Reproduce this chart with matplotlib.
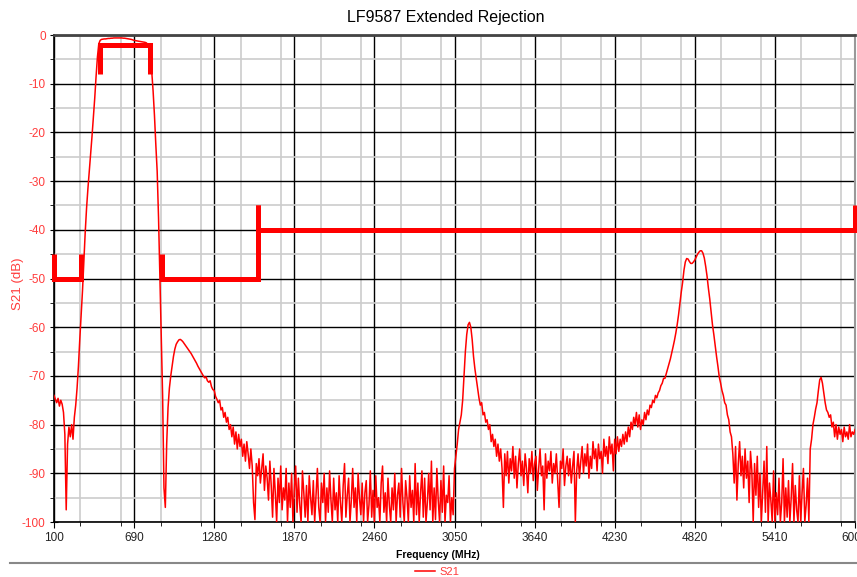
import numpy as np
import matplotlib
matplotlib.use('Agg')
import matplotlib.pyplot as plt
from matplotlib.lines import Line2D
from matplotlib.ticker import MultipleLocator

# sweep 100..6000 MHz, 10 MHz step; S21 in dB (one row = 100 MHz)
freq = np.arange(100, 6001, 10)
s21 = [
    -74.0, -74.8, -75.5, -74.6, -76.2, -75.0, -75.8, -77.5, -82.0, -97.5,   # 100
    -84.0, -80.5, -82.5, -80.0, -83.0, -78.5, -76.0, -72.5, -68.0, -62.5,   # 200
    -57.5, -52.5, -46.5, -40.5, -35.5, -31.5, -28.0, -24.5, -20.8, -17.0,   # 300
    -13.0, -8.5, -4.5, -1.8, -1.1, -0.9, -0.85, -0.8, -0.8, -0.75,          # 400
    -0.7, -0.7, -0.65, -0.65, -0.6, -0.6, -0.6, -0.6, -0.6, -0.6,           # 500
    -0.6, -0.65, -0.65, -0.7, -0.75, -0.8, -0.85, -0.9, -1.0, -1.1,         # 600
    -1.15, -1.2, -1.25, -1.3, -1.35, -1.4, -1.45, -1.5, -1.6, -1.9,         # 700
    -2.5, -4.5, -7.5, -11.5, -16.5, -22.5, -28.0, -37.5, -50.0, -63.0,      # 800
    -74.0, -93.0, -97.0, -84.0, -76.5, -72.5, -70.0, -68.0, -66.0, -64.5,   # 900
    -63.5, -63.0, -62.6, -62.5, -62.7, -63.0, -63.4, -63.8, -64.2, -64.6,   # 1000
    -65.0, -65.4, -65.9, -66.4, -66.9, -67.4, -68.0, -68.5, -69.0, -69.5,   # 1100
    -70.0, -70.4, -70.2, -71.0, -71.3, -71.0, -72.2, -72.8, -73.0, -74.2,   # 1200
    -74.8, -75.5, -75.0, -77.0, -76.5, -78.5, -77.5, -79.5, -78.5, -81.0,   # 1300
    -80.0, -82.5, -80.5, -84.0, -81.5, -85.0, -82.0, -84.5, -83.0, -86.5,   # 1400
    -84.0, -87.5, -83.5, -86.0, -89.0, -85.0, -88.5, -96.0, -99.5, -88.0,   # 1500
    -90.5, -87.0, -92.0, -89.0, -86.0, -93.5, -88.5, -91.0, -95.5, -87.5,   # 1600
    -92.5, -99.0, -89.0, -94.0, -100, -91.0, -96.0, -88.5, -97.5, -93.0,    # 1700
    -95.5, -89.0, -100, -92.0, -97.0, -90.0, -100, -93.5, -88.5, -98.0,     # 1800
    -91.0, -96.5, -100, -89.5, -94.0, -99.0, -92.5, -100, -90.5, -95.0,     # 1900
    -98.5, -91.5, -100, -94.5, -89.0, -97.0, -100, -92.0, -96.0, -90.0,     # 2000
    -100, -93.0, -98.0, -89.5, -95.5, -100, -91.0, -97.5, -94.0, -100,      # 2100
    -90.5, -96.0, -100, -92.5, -88.0, -99.0, -94.5, -91.0, -100, -95.5,     # 2200
    -89.0, -97.0, -93.0, -100, -90.0, -95.0, -98.5, -92.0, -100, -94.0,     # 2300
    -91.5, -100, -96.5, -89.5, -99.0, -93.5, -100, -90.5, -97.0, -95.0,     # 2400
    -100, -92.0, -88.5, -98.0, -94.0, -100, -91.0, -96.5, -100, -93.0,      # 2500
    -97.5, -90.0, -100, -94.5, -92.0, -99.0, -89.0, -96.0, -100, -91.5,     # 2600
    -95.0, -100, -90.5, -97.0, -93.5, -100, -88.0, -98.5, -92.0, -100,      # 2700
    -94.0, -89.5, -99.0, -91.0, -100, -96.0, -90.0, -97.5, -87.5, -100,     # 2800
    -93.0, -99.5, -89.0, -95.5, -100, -91.5, -98.0, -88.5, -100, -94.5,     # 2900
    -96.0, -90.5, -100, -95.0, -98.5, -89.0, -86.5, -84.0, -81.0, -79.5,    # 3000
    -78.0, -75.0, -70.0, -65.0, -61.5, -59.5, -59.0, -60.0, -62.5, -66.0,   # 3100
    -68.5, -70.5, -72.5, -74.5, -76.0, -75.5, -78.0, -77.5, -79.5, -79.0,   # 3200
    -81.0, -80.0, -83.5, -82.0, -84.5, -83.0, -86.5, -84.0, -87.5, -85.0,   # 3300
    -89.0, -97.0, -86.0, -90.5, -85.5, -92.0, -87.0, -89.5, -84.5, -91.0,   # 3400
    -86.5, -93.0, -88.0, -85.0, -90.5, -87.5, -92.5, -86.0, -89.0, -94.0,   # 3500
    -87.0, -90.0, -85.5, -91.5, -88.0, -86.5, -93.5, -89.0, -85.0, -90.5,   # 3600
    -88.5, -97.5, -86.0, -91.0, -87.5, -89.5, -85.5, -92.0, -88.0, -90.0,   # 3700
    -86.0, -91.5, -97.0, -87.5, -89.0, -85.0, -92.5, -88.5, -86.5, -90.5,   # 3800
    -87.0, -92.0, -88.5, -85.5, -100, -89.5, -86.0, -91.0, -87.5, -84.5,    # 3900
    -90.0, -86.0, -88.5, -84.0, -91.0, -86.5, -89.0, -83.5, -87.0, -85.0,   # 4000
    -89.5, -84.0, -87.0, -85.5, -90.0, -83.0, -86.5, -84.5, -88.0, -82.5,   # 4100
    -86.0, -84.0, -89.5, -83.0, -86.0, -82.5, -85.5, -83.0, -84.5, -82.0,   # 4200
    -84.0, -81.5, -83.5, -80.5, -82.5, -79.5, -81.0, -78.5, -80.0, -77.5,   # 4300
    -80.5, -78.0, -81.0, -79.0, -80.0, -77.5, -79.0, -77.0, -78.0, -76.0,   # 4400
    -76.5, -75.0, -75.5, -74.0, -74.5, -73.5, -73.0, -72.0, -71.5, -70.5,   # 4500
    -70.5, -69.5, -68.5, -67.5, -66.5, -65.3, -64.0, -62.7, -61.2, -59.5,   # 4600
    -57.5, -55.2, -52.8, -50.8, -48.3, -46.6, -45.9, -46.0, -46.5, -46.9,   # 4700
    -46.9, -46.6, -46.2, -45.6, -45.0, -44.6, -44.3, -44.3, -44.8, -45.8,   # 4800
    -47.5, -49.5, -52.0, -54.2, -56.8, -59.5, -61.5, -63.8, -66.0, -68.0,   # 4900
    -70.2, -71.5, -73.0, -74.0, -75.5, -76.0, -78.0, -79.0, -81.5, -82.5,   # 5000
    -86.0, -92.0, -84.5, -95.5, -88.0, -83.5, -90.5, -86.5, -93.0, -85.0,   # 5100
    -91.0, -87.5, -96.0, -85.5, -89.5, -100, -88.0, -94.5, -86.5, -97.0,    # 5200
    -90.0, -100, -93.5, -87.5, -98.0, -84.5, -100, -92.0, -95.5, -100,      # 5300
    -89.5, -100, -94.0, -98.5, -91.0, -100, -96.0, -87.0, -100, -93.0,      # 5400
    -99.0, -91.5, -100, -95.0, -88.0, -100, -92.5, -97.5, -100, -90.5,      # 5500
    -100, -94.0, -89.0, -100, -96.5, -91.0, -100, -85.0, -83.0, -80.0,      # 5600
    -78.5, -76.8, -75.5, -73.0, -70.8, -70.3, -71.5, -73.5, -75.5, -77.0,   # 5700
    -77.5, -78.5, -78.0, -80.5, -79.5, -82.5, -80.0, -83.0, -80.5, -82.0,   # 5800
    -81.0, -83.5, -80.5, -82.5, -81.5, -83.0, -80.0, -82.5, -81.5, -82.0,   # 5900
    -81.0,
]

# spec mask segments
mask_pass_f = [440, 440, 810, 810]
mask_pass_db = [-8, -2, -2, -8]
mask_low_f = [100, 100, 300, 300]
mask_low_db = [-45, -50, -50, -45]
mask_mid_f = [895, 895, 1600, 1600]
mask_mid_db = [-45, -50, -50, -35]
mask_high_f = [1600, 1600, 6000, 6000]
mask_high_db = [-35, -40, -40, -35]

xticks = np.arange(100, 6001, 590)
yticks = np.arange(-100, 1, 10)

narrow = ['Liberation Sans Narrow', 'Liberation Sans', 'DejaVu Sans']
plt.rcParams['font.family'] = ['Liberation Sans', 'DejaVu Sans']
plt.rcParams['axes.unicode_minus'] = False

fig = plt.figure(figsize=(8.57, 5.77), dpi=100)
ax = fig.add_axes([0.063, 0.0953, 0.9347, 0.844])

ax.plot(freq, s21, color='#ff0000', lw=1.1, label='S21', zorder=3)
for f, d in [(mask_pass_f, mask_pass_db), (mask_low_f, mask_low_db),
             (mask_mid_f, mask_mid_db), (mask_high_f, mask_high_db)]:
    ax.plot(f, d, color='#ff0000', lw=3.6, solid_joinstyle='miter',
            solid_capstyle='butt', zorder=4, clip_on=False)

ax.set_xlim(100, 6000)
ax.set_ylim(-100, 0)
ax.set_xticks(xticks)
ax.set_yticks(yticks)
ax.xaxis.set_minor_locator(MultipleLocator(295))
ax.yaxis.set_minor_locator(MultipleLocator(5))
ax.grid(which='major', color='black', lw=1.0, zorder=1)
ax.grid(which='minor', color='#cccccc', lw=1.2, zorder=0)
ax.set_axisbelow(True)

ax.tick_params(axis='x', which='major', direction='out', length=4,
               labelsize=8.5, labelcolor='#222222', pad=3)
ax.tick_params(axis='y', which='major', direction='inout', length=6,
               labelsize=8.5, labelcolor='#ff3b3b', pad=3)
ax.tick_params(which='minor', direction='out', length=3)

for s in ['left', 'bottom']:
    ax.spines[s].set_color('black')
    ax.spines[s].set_linewidth(1.2)
ax.spines['top'].set_color('#444444')
ax.spines['top'].set_linewidth(2)
ax.spines['right'].set_color('#999999')
ax.spines['right'].set_linewidth(1.5)

ax.set_ylabel('S21 (dB)', color='#ff3b3b', fontsize=9.5)
ax.yaxis.set_label_coords(-0.038, 0.49)

fig.text(0.52, 0.97, 'LF9587 Extended Rejection', ha='center', va='center',
         fontsize=11.5, family=narrow)
fig.text(0.511, 0.038, 'Frequency (MHz)', ha='center', va='center',
         fontsize=7.5, fontweight='bold', family=narrow)
fig.add_artist(Line2D([0.012, 1.0], [0.0243, 0.0243], color='#888888', lw=1.5,
                      transform=fig.transFigure))
fig.legend(loc='center', bbox_to_anchor=(0.51, 0.009), frameon=False,
           fontsize=8, labelcolor='#ff3b3b', handlelength=1.8,
           borderpad=0, handletextpad=0.4)

fig.savefig('out.png', dpi=100)
